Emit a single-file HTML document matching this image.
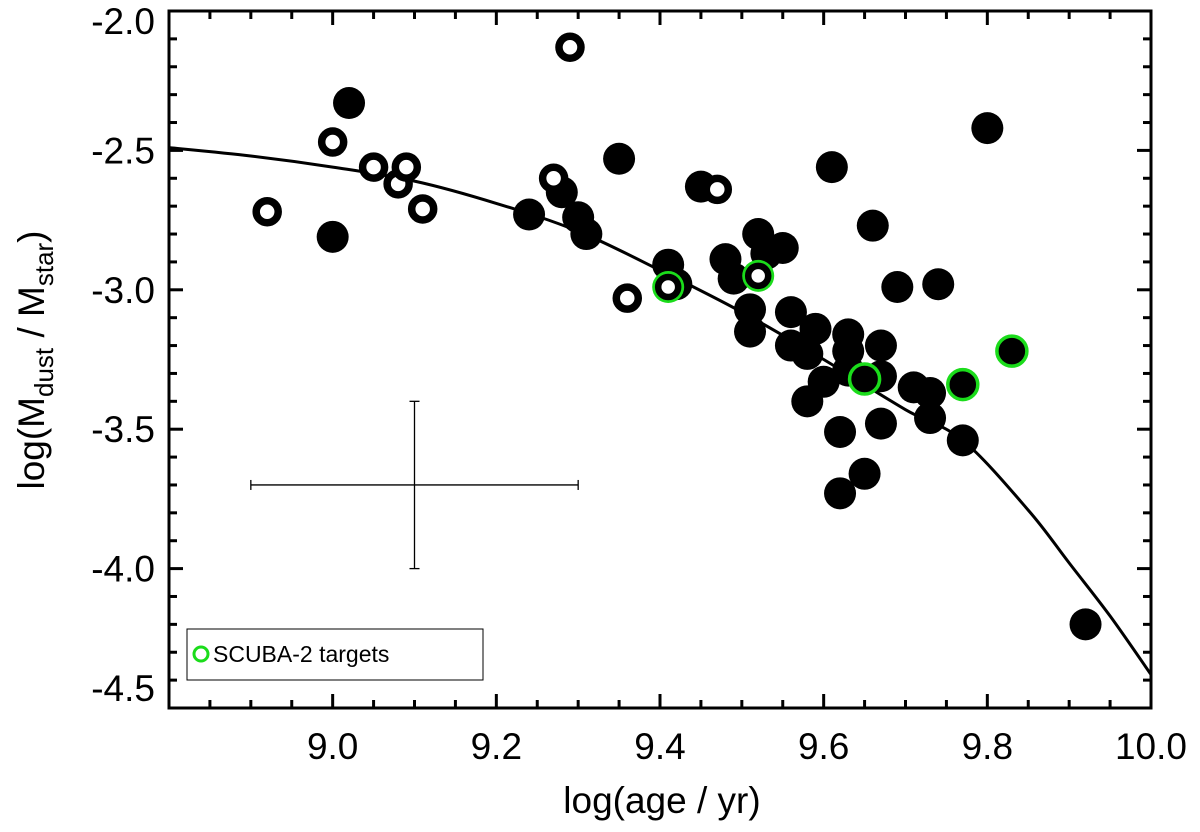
<!DOCTYPE html>
<html><head><meta charset="utf-8"><style>
body{margin:0;background:#fff}
svg{display:block;font-family:"Liberation Sans",sans-serif}
</style></head><body>
<svg id="chart" width="1200" height="832" xmlns="http://www.w3.org/2000/svg">
<g id="marks"></g>
<g id="axes"></g>
<g>
<rect x="187" y="629" width="296" height="51" fill="#fff" stroke="#000" stroke-width="1"/>
<circle cx="201" cy="654" r="7" fill="none" stroke="#1bdc1b" stroke-width="3"/>
<text x="213" y="662" font-size="23">SCUBA-2 targets</text>
</g>
<text x="662" y="813" font-size="37" text-anchor="middle">log(age / yr)</text>
<text transform="translate(44,360) rotate(-90)" font-size="37" text-anchor="middle">log(M<tspan font-size="26" dy="9">dust</tspan><tspan dy="-9"> / M</tspan><tspan font-size="26" dy="9">star</tspan><tspan dy="-9">)</tspan></text>
</svg>
<script>
const openX=[8.92,9.00,9.05,9.08,9.09,9.11,9.27,9.29,9.36,9.47];
const openY=[-2.72,-2.47,-2.56,-2.62,-2.56,-2.71,-2.60,-2.13,-3.03,-2.64];
const openGreenX=[9.41,9.52];
const openGreenY=[-2.99,-2.95];
const filledX=[9.02,9.00,9.24,9.28,9.30,9.31,9.35,9.41,9.42,9.45,9.48,9.49,9.51,9.51,9.52,9.53,9.55,9.56,9.56,9.58,9.58,9.59,9.60,9.61,9.62,9.62,9.63,9.63,9.63,9.65,9.66,9.67,9.67,9.67,9.69,9.71,9.73,9.73,9.74,9.77,9.80,9.92];
const filledY=[-2.33,-2.81,-2.73,-2.65,-2.74,-2.80,-2.53,-2.91,-2.98,-2.63,-2.89,-2.96,-3.07,-3.15,-2.80,-2.87,-2.85,-3.08,-3.20,-3.23,-3.40,-3.14,-3.33,-2.56,-3.51,-3.73,-3.16,-3.22,-3.29,-3.66,-2.77,-3.20,-3.48,-3.31,-2.99,-3.35,-3.37,-3.46,-2.98,-3.54,-2.42,-4.20];
const filledGreenX=[9.65,9.77,9.83];
const filledGreenY=[-3.32,-3.34,-3.22];
const curveX=[8.8,8.9,9.0,9.1,9.2,9.3,9.4,9.5,9.6,9.7,9.77,9.85,9.9,9.95,10.0];
const curveY=[-2.49,-2.52,-2.56,-2.61,-2.69,-2.79,-2.93,-3.08,-3.25,-3.43,-3.54,-3.79,-3.98,-4.17,-4.38];
const errX=9.10, errY=-3.70, errDX=0.20, errDY=0.30;
const xTicks=["9.0","9.2","9.4","9.6","9.8","10.0"];
const yTicks=["-2.0","-2.5","-3.0","-3.5","-4.0","-4.5"];

const L=169,R=1151,T=11,B=708,XMIN=8.8,XMAX=10.0,YMAX=-2.0,YMIN=-4.5;
const sx=v=>L+(v-XMIN)/(XMAX-XMIN)*(R-L);
const sy=v=>T+(YMAX-v)/(YMAX-YMIN)*(B-T);
const NS='http://www.w3.org/2000/svg';
const marks=document.getElementById('marks'), axes=document.getElementById('axes');
function mk(tag,attrs,parent){const e=document.createElementNS(NS,tag);for(const k in attrs)e.setAttribute(k,attrs[k]);parent.appendChild(e);return e;}

// smooth curve (Catmull-Rom)
const P=curveX.map((x,i)=>[sx(x),sy(curveY[i])]);
let d='M'+P[0][0]+','+P[0][1];
for(let i=0;i<P.length-1;i++){const p0=P[Math.max(i-1,0)],p1=P[i],p2=P[i+1],p3=P[Math.min(i+2,P.length-1)];
const c1=[p1[0]+(p2[0]-p0[0])/6,p1[1]+(p2[1]-p0[1])/6],c2=[p2[0]-(p3[0]-p1[0])/6,p2[1]-(p3[1]-p1[1])/6];
d+=`C${c1[0].toFixed(1)},${c1[1].toFixed(1)} ${c2[0].toFixed(1)},${c2[1].toFixed(1)} ${p2[0].toFixed(1)},${p2[1].toFixed(1)}`;}
const cp=mk('path',{d:d,fill:'none',stroke:'#000','stroke-width':3},marks);



// error bar
const eb=mk('g',{stroke:'#000','stroke-width':1.3},marks);


mk('line',{x1:sx(errX-errDX),x2:sx(errX+errDX),y1:sy(errY),y2:sy(errY)},eb);
mk('line',{x1:sx(errX),x2:sx(errX),y1:sy(errY+errDY),y2:sy(errY-errDY)},eb);
mk('line',{x1:sx(errX-errDX),x2:sx(errX-errDX),y1:sy(errY)-5,y2:sy(errY)+5},eb);
mk('line',{x1:sx(errX+errDX),x2:sx(errX+errDX),y1:sy(errY)-5,y2:sy(errY)+5},eb);
mk('line',{x1:sx(errX)-5,x2:sx(errX)+5,y1:sy(errY+errDY),y2:sy(errY+errDY)},eb);
mk('line',{x1:sx(errX)-5,x2:sx(errX)+5,y1:sy(errY-errDY),y2:sy(errY-errDY)},eb);

filledX.forEach((x,i)=>{const c=mk('circle',{cx:sx(x),cy:sy(filledY[i]),r:16,fill:'#000'},marks);

});
filledGreenX.forEach((x,i)=>{const c=mk('circle',{cx:sx(x),cy:sy(filledGreenY[i]),r:15,fill:'#000',stroke:'#1bdc1b','stroke-width':3.5},marks);

});
openX.forEach((x,i)=>{const c=mk('circle',{cx:sx(x),cy:sy(openY[i]),r:11,fill:'#fff',stroke:'#000','stroke-width':7.5},marks);

});
openGreenX.forEach((x,i)=>{const g=mk('g',{},marks);


mk('circle',{cx:sx(x),cy:sy(openGreenY[i]),r:16,fill:'#1bdc1b'},g);
mk('circle',{cx:sx(x),cy:sy(openGreenY[i]),r:10,fill:'#fff',stroke:'#000','stroke-width':6.5},g);});

// axes frame
const fr=mk('rect',{x:L,y:T,width:R-L,height:B-T,fill:'none',stroke:'#000','stroke-width':3},axes);


for(let i=0;i<=24;i++){const v=XMIN+i*0.05,x=sx(v),len=(i%4===0)?14:8;
mk('line',{x1:x,x2:x,y1:B,y2:B-len,stroke:'#000','stroke-width':3},axes);
mk('line',{x1:x,x2:x,y1:T,y2:T+len,stroke:'#000','stroke-width':3},axes);}
for(let i=0;i<=25;i++){const v=YMAX-i*0.1,y=sy(v),len=(i%5===0)?14:8;
mk('line',{x1:L,x2:L+len,y1:y,y2:y,stroke:'#000','stroke-width':3},axes);
mk('line',{x1:R,x2:R-len,y1:y,y2:y,stroke:'#000','stroke-width':3},axes);}
xTicks.forEach(t=>{const e=mk('text',{x:sx(parseFloat(t)),y:759,'font-size':37,'text-anchor':'middle'},axes);e.textContent=t;

});
yTicks.forEach((t,i)=>{let y=sy(parseFloat(t))+13; if(i===0)y+=10; if(i===yTicks.length-1)y-=20;
const e=mk('text',{x:155,y:y,'font-size':37,'text-anchor':'end'},axes);e.textContent=t;

});
</script>
</body></html>
